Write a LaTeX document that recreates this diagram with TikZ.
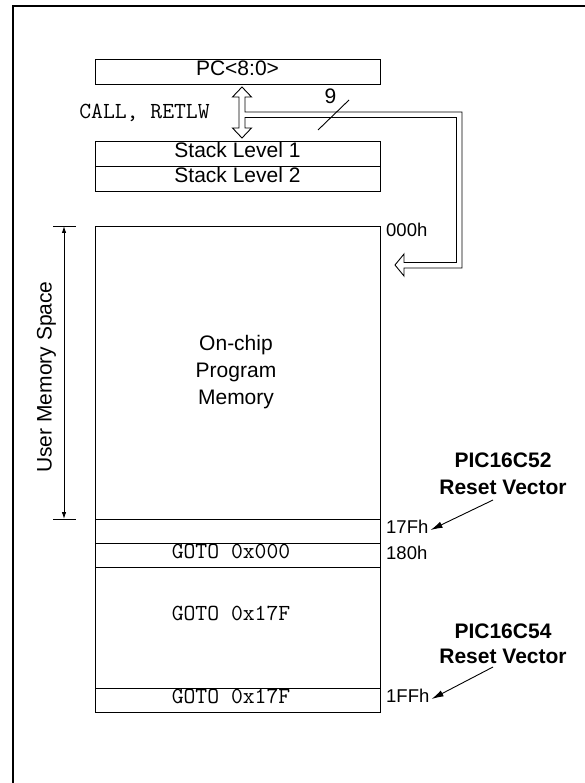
\documentclass[tikz,border=0pt]{standalone}
\usepackage{fontspec}
\setmainfont{Liberation Sans}
\usetikzlibrary{arrows.meta}
\begin{document}
\begin{tikzpicture}[x=1pt,y=-1pt,
  thinline/.style={line width=0.9pt},
  boxnode/.style={draw, thinline, minimum width=285pt, inner sep=0pt, outer sep=0pt,
                  font=\fontsize{21}{25}\selectfont, text height=0.716em, text depth=0pt},
  sanslbl/.style={font=\fontsize{21}{27}\selectfont, inner sep=0pt, text height=0.716em, text depth=0pt},
  boldlbl/.style={font=\fontsize{21}{27}\selectfont\bfseries, inner sep=0pt, text height=0.716em, text depth=0pt},
  addrlbl/.style={font=\fontsize{18.5}{22}\selectfont, inner sep=2pt, anchor=west, text height=0.716em, text depth=0pt},
  monolbl/.style={font=\fontsize{23}{27}\selectfont\ttfamily, inner sep=0pt, text height=0.61em, text depth=0pt},
  dimarrow/.style={thinline, {Latex[length=7pt,width=4.5pt]}-{Latex[length=7pt,width=4.5pt]}},
  resetarrow/.style={thinline, -{Latex[length=12pt,width=6.5pt]}},
  hollow/.style={thinline, line join=miter}
]
\useasboundingbox (0,0) rectangle (585,783);
% frame
\draw[line width=2.4pt] (12.8,783) -- (12.8,6.2) -- (585,6.2);

% PC and stack
\node[boxnode, minimum height=25pt] (pc) at (237.5,71.5) {PC<8:0>};
\node[boxnode, minimum height=25pt] (st1) at (237.5,153.5) {Stack Level 1};
\node[boxnode, minimum height=25pt] (st2) at (237.5,178.5) {Stack Level 2};

% memory map
\node[boxnode, minimum height=293pt, anchor=north] (mem) at (237.5,226) {};
\node[sanslbl, align=center, text height=, text depth=] (memtxt) at (236,372) {On-chip\\Program\\ Memory};
\node[boxnode, minimum height=24pt, anchor=north] (r17f) at (237.5,519) {};
\node[boxnode, minimum height=24pt, anchor=north] (r180) at (237.5,543) {};
\node[monolbl] (g000) at (231,555) {GOTO 0x000};
\node[boxnode, minimum height=121pt, anchor=north] (rmid) at (237.5,567) {};
\node[monolbl] (gmid) at (231,617) {GOTO 0x17F};
\node[boxnode, minimum height=24pt, anchor=north] (r1ff) at (237.5,688) {};
\node[monolbl] (g1ff) at (231,700) {GOTO 0x17F};

% address labels
\node[addrlbl] (a000) at (384,233) {000h};
\node[addrlbl] (a17f) at (384,530) {17Fh};
\node[addrlbl] (a180) at (384,556) {180h};
\node[addrlbl] (a1ff) at (384,699) {1FFh};

% CALL label and bus width
\node[monolbl] (call) at (144.5,115) {CALL, RETLW};
\node[sanslbl] (nine) at (330.5,100) {9};
\coordinate (slA) at (318,130);
\coordinate (slB) at (349,100);
\draw[thinline] (slA) -- (slB);

% hollow bus arrow
\draw[hollow] (242,87) -- (251.5,97) -- (245,97) -- (245,112) -- (462,112) -- (462,268)
  -- (404,268) -- (404,276) -- (395,265) -- (404,254) -- (404,262.5) -- (456.5,262.5)
  -- (456.5,117.5) -- (245,117.5) -- (245,128) -- (251.5,128) -- (242,138) -- (232.5,128)
  -- (239,128) -- (239,97) -- (232.5,97) -- cycle;

% user memory space dimension
\coordinate (dtop) at (64,226);
\coordinate (dbot) at (64,519);
\draw[thinline] (53,226) -- (76,226);
\draw[thinline] (53,519) -- (76,519);
\draw[dimarrow] (dtop) -- (dbot);
\node[sanslbl, rotate=90] (ums) at (48,377) {User Memory Space};

% reset vectors
\node[boldlbl] (p52) at (503,464) {PIC16C52};
\node[boldlbl] (rv52) at (503,491) {Reset Vector};
\draw[resetarrow] (493,500) -- (a17f.east);
\node[boldlbl] (p54) at (503,635) {PIC16C54};
\node[boldlbl] (rv54) at (503,660) {Reset Vector};
\draw[resetarrow] (493,667) -- (a1ff.east);
\end{tikzpicture}
\end{document}
